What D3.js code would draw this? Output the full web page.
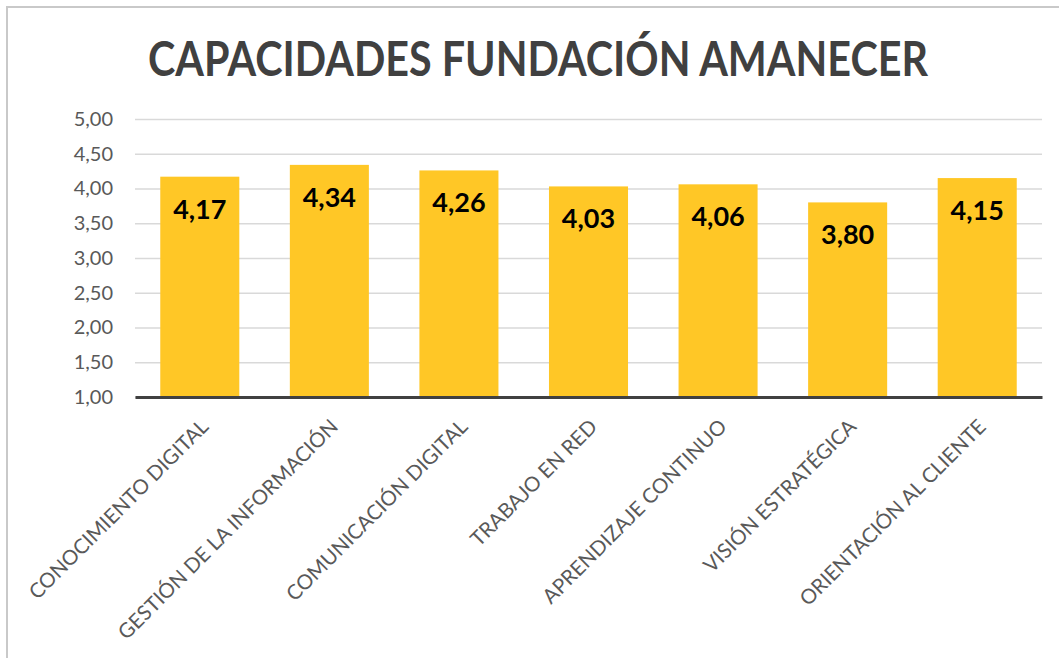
<!DOCTYPE html>
<html>
<head>
<meta charset="utf-8">
<script src="https://cdn.jsdelivr.net/npm/d3@7"></script>
<style>
  body { margin: 0; background: #fff; }
  svg { display: block; font-family: Lato, "Open Sans", sans-serif; }
</style>
</head>
<body>
<svg width="1059" height="658"></svg>
<script>
// datos del grafico
var titulo = "CAPACIDADES FUNDACIÓN AMANECER";
var categorias = ["CONOCIMIENTO DIGITAL", "GESTIÓN DE LA INFORMACIÓN", "COMUNICACIÓN DIGITAL",
    "TRABAJO EN RED", "APRENDIZAJE CONTINUO", "VISIÓN ESTRATÉGICA", "ORIENTACIÓN AL CLIENTE"];
var valores = [4.17, 4.34, 4.26, 4.03, 4.06, 3.80, 4.15];
var ticksY = [1, 1.5, 2, 2.5, 3, 3.5, 4, 4.5, 5];

var svg = d3.select("svg"),
    margin = { top: 119, right: 17, bottom: 261, left: 135 },
    width = +svg.attr("width") - margin.left - margin.right,
    height = +svg.attr("height") - margin.top - margin.bottom;

var coma = d3.format(".2f");
function fmt(v) { return coma(v).replace(".", ","); }

// marco del grafico (solo se ve arriba y a la izquierda)
svg.append("rect")
    .attr("x", 7).attr("y", 7)
    .attr("width", 1070).attr("height", 700)
    .attr("fill", "none")
    .attr("stroke", "#c9c9c9")
    .attr("stroke-width", 2);

svg.append("text")
    .attr("x", 538).attr("y", 76)
    .attr("text-anchor", "middle")
    .attr("font-size", 47)
    .attr("font-weight", "bold")
    .attr("fill", "#404040")
    .attr("textLength", 780)
    .attr("lengthAdjust", "spacingAndGlyphs")
    .text(titulo);

var x = d3.scaleBand().domain(categorias).range([0, width]).paddingInner(0.39).paddingOuter(0.195),
    y = d3.scaleLinear().domain([1, 5]).range([height, 0]);

var g = svg.append("g")
    .attr("transform", "translate(" + margin.left + "," + margin.top + ")");

// lineas de la cuadricula + etiquetas eje y
var ejeY = g.append("g")
    .call(d3.axisLeft(y).tickValues(ticksY).tickSize(-width).tickFormat(fmt));
ejeY.select(".domain").remove();
ejeY.selectAll(".tick line").attr("stroke", "#d9d9d9").attr("stroke-width", 1.3);
ejeY.selectAll(".tick text")
    .attr("x", -22)
    .attr("font-size", 20)
    .attr("fill", "#595959")
    .attr("font-family", "Lato, sans-serif");

g.selectAll(".bar")
    .data(valores)
    .enter().append("rect")
    .attr("class", "bar")
    .attr("x", function (d, i) { return x(categorias[i]); })
    .attr("y", function (d) { return y(d); })
    .attr("width", x.bandwidth())
    .attr("height", function (d) { return height - y(d); })
    .attr("fill", "#ffc726");

g.selectAll(".label")
    .data(valores)
    .enter().append("text")
    .attr("class", "label")
    .attr("x", function (d, i) { return x(categorias[i]) + x.bandwidth() / 2; })
    .attr("y", function (d) { return y(d) + 42; })
    .attr("text-anchor", "middle")
    .attr("font-size", 27)
    .attr("font-weight", "bold")
    .attr("fill", "#000")
    .text(fmt);

// eje x
var ejeX = g.append("g")
    .attr("transform", "translate(0," + height + ")")
    .call(d3.axisBottom(x).tickSize(0));
ejeX.select(".domain").attr("stroke", "#404040").attr("stroke-width", 3);
ejeX.selectAll(".tick text")
    .attr("font-size", 20.5)
    .attr("fill", "#595959")
    .attr("font-family", "Lato, sans-serif")
    .attr("text-anchor", "end")
    .attr("dy", 0)
    .attr("y", 0)
    .attr("transform", "translate(10,31) rotate(-45)");
</script>
</body>
</html>
